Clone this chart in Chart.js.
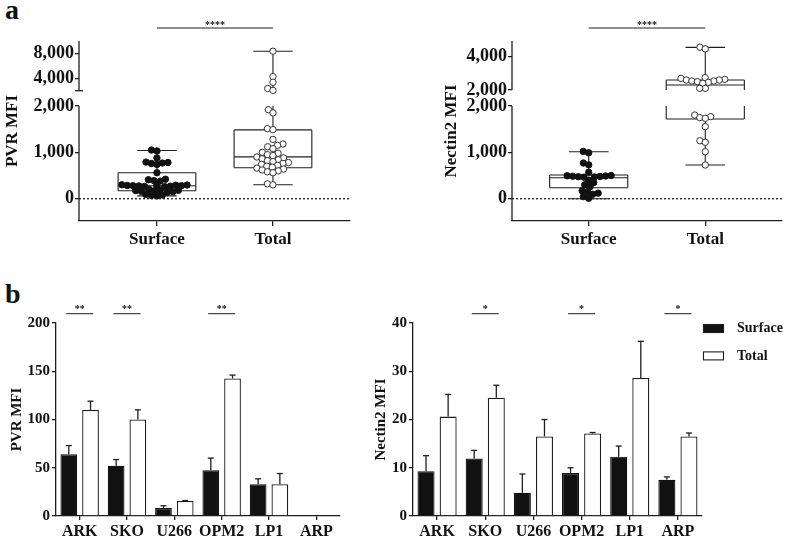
<!DOCTYPE html>
<html>
<head>
<meta charset="utf-8">
<script src="https://cdn.jsdelivr.net/npm/chart.js@4.4.0/dist/chart.umd.min.js"></script>
<style>
  body { margin: 0; background: #fff; width: 787px; height: 541px; position: relative; overflow: hidden; }
  canvas { position: absolute; }
  .panel { position: absolute; font: bold 28px 'Liberation Serif', serif; line-height: 1; color: #111; }
</style>
</head>
<body>
<div class="panel" style="left:5px;top:-4px">a</div>
<div class="panel" style="left:5px;top:280px">b</div>
<canvas id="pvrBox" width="400" height="260" style="left:0;top:0"></canvas>
<canvas id="nectinBox" width="357" height="260" style="left:430px;top:0"></canvas>
<canvas id="pvrBars" width="370" height="261" style="left:0;top:280px"></canvas>
<canvas id="nectinBars" width="417" height="261" style="left:370px;top:280px"></canvas>
<script>
// ---- panel a: MFI per patient sample ----
const groups = ['Surface', 'Total'];
const pvrSurface = [1050, 1030, 880, 790, 780, 770, 760, 740, 560, 420, 410, 390, 380, 300, 295, 290, 285, 285, 280, 280,
  275, 270, 265, 260, 200, 190, 180, 175, 170, 160, 150, 140, 90, 80, 70, 60];
const pvrTotal = [8420, 4350, 3450, 2450, 2150, 1920, 1850, 1510, 1490, 1280, 1180, 1150, 1120, 1080, 1000, 980, 950, 930,
  900, 880, 860, 840, 820, 800, 780, 760, 740, 720, 700, 680, 660, 640, 620, 600, 580, 560, 320, 300];
const nectinSurface = [1020, 990, 770, 730, 570, 500, 495, 490, 485, 480, 475, 470, 465, 400, 350, 300, 260, 170, 150,
  120, 95, 45, 10];
const nectinTotal = [4570, 4470, 2740, 2700, 2640, 2600, 2600, 2540, 2540, 2500, 2460, 2400, 2100, 2100, 1805, 1770,
  1750, 1735, 1555, 1250, 1217, 1014, 727];
// min, q1, median, q3, max
const pvrSurfaceBox = [60, 172, 280, 559, 1040];
const pvrTotalBox = [300, 667, 903, 1484, 8420];
const nectinSurfaceBox = [0, 237, 453, 511, 1014];
const nectinTotalBox = [727, 1720, 2300, 2600, 4560];
const pvrTicksLow = [0, 1000, 2000];
const pvrTicksHigh = [4000, 8000];
const nectinTicksLow = [0, 1000, 2000];
const nectinTicksHigh = [2000, 4000];

// ---- panel b: cell lines ----
const cellLines = ['ARK', 'SKO', 'U266', 'OPM2', 'LP1', 'ARP'];
const pvrSurfaceMean = [64, 52, 8.3, 47.5, 33, null];
const pvrSurfaceErr = [9, 6.5, 2.3, 12.5, 5.5, null];
const pvrTotalMean = [110, 100, 15.6, 142.5, 33, null];
const pvrTotalErr = [9, 10, 0.4, 3.5, 11, null];
const nectinSurfaceMean = [9.3, 11.9, 4.8, 8.9, 12.3, 7.5];
const nectinSurfaceErr = [3.2, 1.7, 3.9, 1.1, 2.2, 0.6];
const nectinTotalMean = [20.6, 24.5, 16.5, 17.1, 28.6, 16.5];
const nectinTotalErr = [4.6, 2.6, 3.5, 0.2, 7.6, 0.7];
const pvrSig = ['**', '**', '', '**', '', ''];
const nectinSig = ['', '*', '', '*', '', '*'];
const pvrBarTicks = [0, 50, 100, 150, 200];
const nectinBarTicks = [0, 10, 20, 30, 40];

const INK = '#1e1e1e';
const SERIF = "'Liberation Serif', 'Times New Roman', serif";
Chart.defaults.font.family = SERIF;
Chart.defaults.font.weight = 'bold';
Chart.defaults.color = '#111';

function line(ctx, x1, y1, x2, y2) {
  ctx.beginPath(); ctx.moveTo(x1, y1); ctx.lineTo(x2, y2); ctx.stroke();
}

// box, whiskers, broken axis, dotted zero and the significance bar
function boxLayer(o, toAxis) {
  return {
    id: 'boxLayer',
    beforeDatasetsDraw(chart) {
      const { ctx, chartArea: a, scales: { x, y } } = chart;
      const py = v => y.getPixelForValue(toAxis(v));
      const yLow = y.getPixelForValue(o.brk.lowTop);
      const yHigh = y.getPixelForValue(o.brk.highStart);
      const run = (px, lo, hi) => {
        if (lo <= o.brk.lowTop && hi > o.brk.lowTop) {
          line(ctx, px, py(lo), px, yLow); line(ctx, px, yHigh, px, py(hi));
        } else line(ctx, px, py(lo), px, py(hi));
      };
      ctx.save();
      ctx.strokeStyle = INK; ctx.lineWidth = 1.3;
      ctx.setLineDash([2, 2]);
      line(ctx, a.left, py(0), a.right, py(0));
      ctx.setLineDash([]);
      line(ctx, a.left, a.bottom, a.left, yLow);
      line(ctx, a.left, yHigh, a.left, a.top);
      if (o.breakCap) line(ctx, a.left - 4, yHigh, a.left + 4, yHigh);

      ctx.lineWidth = 1.1;
      o.boxes.forEach((s, g) => {
        const [mn, q1, med, q3, mx] = s;
        const cx = x.getPixelForValue(g);
        const bl = x.getPixelForValue(g - 0.335), br = x.getPixelForValue(g + 0.335);
        const cl = x.getPixelForValue(g - 0.17), cr = x.getPixelForValue(g + 0.17);
        run(cx, mn, q1); run(cx, q3, mx);
        line(ctx, cl, py(mn), cr, py(mn)); line(ctx, cl, py(mx), cr, py(mx));
        run(bl, q1, q3); run(br, q1, q3);
        line(ctx, bl, py(q1), br, py(q1));
        line(ctx, bl, py(q3), br, py(q3));
        line(ctx, bl, py(med), br, py(med));
      });

      const ly = a.top - 13, x0 = x.getPixelForValue(0), x1 = x.getPixelForValue(1);
      ctx.lineWidth = 1;
      line(ctx, x0, ly, x1, ly);
      ctx.fillStyle = '#111';
      ctx.font = 'bold 10px ' + SERIF;
      ctx.textAlign = 'center';
      ctx.fillText('****', (x0 + x1) / 2, ly - 0.5);
      ctx.restore();
    }
  };
}

// simple beeswarm: push each point sideways to the nearest free spot
function swarm(chart, diam) {
  const xs = chart.scales.x, ys = chart.scales.y;
  const perUnit = xs.getPixelForValue(1) - xs.getPixelForValue(0);
  chart.data.datasets.forEach((ds, g) => {
    const placed = [];
    const order = ds.data.map((p, k) => k).sort((a, b) => ds.data[a].y - ds.data[b].y);
    order.forEach(k => {
      const py = ys.getPixelForValue(ds.data[k].y);
      const cands = [0];
      placed.forEach(q => {
        const dy = Math.abs(q.y - py);
        if (dy < diam) {
          const dx = Math.sqrt(diam * diam - dy * dy);
          cands.push(q.x - dx, q.x + dx);
        }
      });
      cands.sort((a, b) => Math.abs(a) - Math.abs(b));
      const off = cands.find(c => placed.every(q => (q.x - c) ** 2 + (q.y - py) ** 2 >= diam * diam - 0.01));
      placed.push({ x: off, y: py });
      ds.data[k].x = g + off / perUnit;
    });
  });
  chart.update('none');
}

function boxPanel(id, o) {
  const b = o.brk;
  const up = v => b.highStart + (v - b.highBottom) * b.ratio;
  const toAxis = v => v <= b.lowTop ? v : up(v);
  const tickVals = [...o.ticksLow, ...o.ticksHigh.map(up)];
  const tickLabels = [...o.ticksLow, ...o.ticksHigh].map(v => v.toLocaleString('en-US'));
  const chart = new Chart(document.getElementById(id), {
    type: 'scatter',
    data: {
      datasets: o.points.map((vals, g) => ({
        label: groups[g],
        data: vals.map(v => ({ x: g, y: toAxis(v) })),
        pointRadius: 3.2,
        pointBorderWidth: 1,
        pointBackgroundColor: g ? '#fff' : '#111',
        pointBorderColor: g ? '#333' : '#111'
      }))
    },
    options: {
      responsive: false,
      animation: false,
      events: [],
      layout: { padding: o.pad },
      plugins: { legend: { display: false }, tooltip: { enabled: false } },
      scales: {
        x: {
          type: 'linear', min: o.xMin, max: o.xMax,
          afterBuildTicks: s => { s.ticks = groups.map((n, i) => ({ value: i })); },
          ticks: { callback: (v, i) => groups[i], autoSkip: false, maxRotation: 0, padding: 3, font: { size: 17 } },
          grid: { drawOnChartArea: false, tickLength: 5, color: INK, lineWidth: 1.3 },
          border: { color: INK, width: 1.3 },
          afterFit: s => { s.height = 39; }
        },
        y: {
          min: b.min, max: b.max,
          afterBuildTicks: s => { s.ticks = tickVals.map(v => ({ value: v })); },
          ticks: { callback: (v, i) => tickLabels[i], autoSkip: false, padding: 1, font: { size: 18 } },
          grid: { drawOnChartArea: false, tickLength: 4, color: INK, lineWidth: 1.3 },
          border: { display: false },
          title: { display: true, text: o.title, padding: 0, font: { size: 17, weight: 'bold' } },
          afterFit: s => { s.width = o.yWidth; }
        }
      }
    },
    plugins: [boxLayer(o, toAxis)]
  });
  swarm(chart, 5.6);
  return chart;
}

function errorBars(errs) {
  return {
    id: 'errorBars',
    afterDatasetsDraw(chart) {
      const { ctx, scales: { y } } = chart;
      ctx.save();
      ctx.strokeStyle = INK; ctx.lineWidth = 1.3;
      chart.data.datasets.forEach((ds, di) => {
        chart.getDatasetMeta(di).data.forEach((bar, i) => {
          const v = ds.data[i], e = errs[di][i];
          if (v == null || e == null) return;
          const yt = y.getPixelForValue(v + e);
          line(ctx, bar.x, bar.y, bar.x, yt);
          line(ctx, bar.x - 3, yt, bar.x + 3, yt);
        });
      });
      ctx.restore();
    }
  };
}

function sigMarks(sig) {
  return {
    id: 'sigMarks',
    afterDraw(chart) {
      const { ctx, chartArea: a, scales: { x } } = chart;
      const ly = a.top - 9.3;
      ctx.save();
      ctx.strokeStyle = INK; ctx.lineWidth = 1; ctx.fillStyle = '#111';
      ctx.font = 'bold 10px ' + SERIF; ctx.textAlign = 'center';
      sig.forEach((s, i) => {
        if (!s) return;
        const cx = x.getPixelForValue(i);
        line(ctx, cx - 13.5, ly, cx + 13.5, ly);
        ctx.fillText(s, cx, ly - 1.3);
      });
      ctx.restore();
    }
  };
}

const sideLegend = {
  id: 'sideLegend',
  afterDraw(chart) {
    const { ctx, chartArea: a } = chart;
    ctx.save();
    ctx.font = 'bold 14px ' + SERIF; ctx.textBaseline = 'middle'; ctx.fillStyle = '#111';
    chart.data.datasets.forEach((ds, i) => {
      const x0 = a.right + 1, y0 = a.top + 1 + i * 27.4;
      ctx.fillStyle = ds.backgroundColor;
      ctx.fillRect(x0, y0, 21, 9);
      ctx.strokeStyle = INK; ctx.lineWidth = 1.1;
      ctx.strokeRect(x0 + 0.5, y0 + 0.5, 20, 8);
      ctx.fillStyle = '#111';
      ctx.fillText(ds.label, x0 + 34, y0 + 4.5);
    });
    ctx.restore();
  }
};

function barPanel(id, o) {
  return new Chart(document.getElementById(id), {
    type: 'bar',
    data: {
      labels: cellLines,
      datasets: [
        { label: groups[0], data: o.surface, backgroundColor: '#111', borderColor: '#111', borderWidth: 1.2 },
        { label: groups[1], data: o.total, backgroundColor: '#fff', borderColor: INK, borderWidth: 1.3 }
      ]
    },
    options: {
      responsive: false,
      animation: false,
      events: [],
      layout: { padding: o.pad },
      datasets: { bar: { categoryPercentage: 0.918, barPercentage: 0.77 } },
      plugins: { legend: { display: false }, tooltip: { enabled: false } },
      scales: {
        x: {
          grid: { offset: false, drawOnChartArea: false, tickLength: 4, color: INK, lineWidth: 1.3 },
          border: { color: INK, width: 1.3 },
          ticks: { autoSkip: false, maxRotation: 0, padding: 2, font: { size: 16 } },
          afterFit: s => { s.height = 25; }
        },
        y: {
          min: 0, max: o.ticks[o.ticks.length - 1],
          afterBuildTicks: s => { s.ticks = o.ticks.map(v => ({ value: v })); },
          ticks: { padding: 2, font: { size: 15 } },
          grid: { drawOnChartArea: false, tickLength: 4, color: INK, lineWidth: 1.3 },
          border: { color: INK, width: 1.3 },
          title: { display: true, text: o.title, padding: 0, font: { size: 15, weight: 'bold' } },
          afterFit: s => { s.width = o.yWidth; }
        }
      }
    },
    plugins: [errorBars([o.surfaceErr, o.totalErr]), sigMarks(o.sig)].concat(o.legend ? [sideLegend] : [])
  });
}

boxPanel('pvrBox', {
  title: 'PVR MFI',
  points: [pvrSurface, pvrTotal],
  boxes: [pvrSurfaceBox, pvrTotalBox],
  brk: { lowTop: 2000, highBottom: 2100, highStart: 2330, ratio: 0.1348, min: -481, max: 3402 },
  breakCap: true,
  ticksLow: pvrTicksLow, ticksHigh: pvrTicksHigh,
  xMin: -0.672, xMax: 1.664,
  pad: { left: 2, top: 41, right: 50, bottom: 0 },
  yWidth: 77
});

boxPanel('nectinBox', {
  title: 'Nectin2 MFI',
  points: [nectinSurface, nectinTotal],
  boxes: [nectinSurfaceBox, nectinTotalBox],
  brk: { lowTop: 2000, highBottom: 2000, highStart: 2345, ratio: 0.3592, min: -481, max: 3402 },
  breakCap: false,
  ticksLow: nectinTicksLow, ticksHigh: nectinTicksHigh,
  xMin: -0.658, xMax: 1.658,
  pad: { left: 11, top: 41, right: 4, bottom: 0 },
  yWidth: 71
});

barPanel('pvrBars', {
  title: 'PVR MFI',
  surface: pvrSurfaceMean, surfaceErr: pvrSurfaceErr,
  total: pvrTotalMean, totalErr: pvrTotalErr,
  sig: pvrSig, ticks: pvrBarTicks,
  pad: { left: 8, top: 43, right: 30, bottom: 0 },
  yWidth: 48
});

barPanel('nectinBars', {
  title: 'Nectin2 MFI',
  surface: nectinSurfaceMean, surfaceErr: nectinSurfaceErr,
  total: nectinTotalMean, totalErr: nectinTotalErr,
  sig: nectinSig, ticks: nectinBarTicks,
  pad: { left: 2, top: 43, right: 85, bottom: 0 },
  yWidth: 41,
  legend: true
});
</script>
</body>
</html>
